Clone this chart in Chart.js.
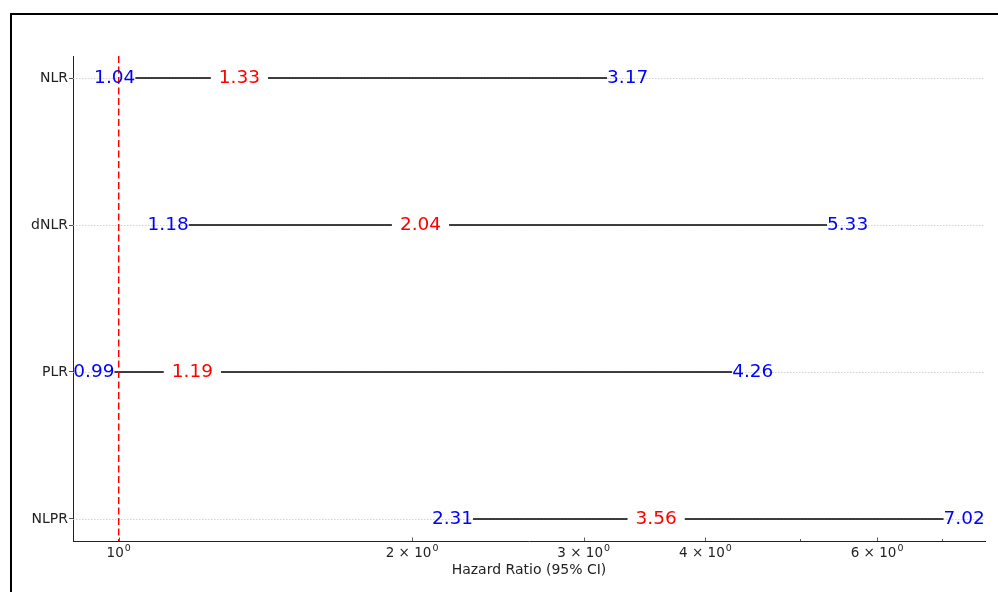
<!DOCTYPE html>
<html>
<head>
<meta charset="utf-8">
<script src="https://cdn.jsdelivr.net/npm/chart.js@4.4.1/dist/chart.umd.min.js"></script>
<style>
  html, body { margin: 0; padding: 0; background: #fff; }
  #wrap { width: 998px; height: 592px; position: relative; }
</style>
</head>
<body>
<div id="wrap"><canvas id="c" width="998" height="592"></canvas></div>
<script>
const categories = ['NLR', 'dNLR', 'PLR', 'NLPR'];
const hazardRatio = [1.33, 2.04, 1.19, 3.56];
const lowerCI = [1.04, 1.18, 0.99, 2.31];
const upperCI = [3.17, 5.33, 4.26, 7.02];
const xTickValues = [0.9, 1, 2, 3, 4, 5, 6, 7];
const xTickMantissa = {1: '', 2: '2 × ', 3: '3 × ', 4: '4 × ', 6: '6 × '};
const referenceValue = 1;

const FONT = 'DejaVu Sans';

const datasets = categories.map((c, i) => ({
  label: c,
  data: [{x: lowerCI[i], y: i}, {x: upperCI[i], y: i}],
  showLine: true,
  borderColor: '#000',
  borderWidth: 1.5,
  pointRadius: 0,
  order: 1
}));
datasets.push({
  label: 'ref',
  data: [{x: referenceValue, y: -0.15}, {x: referenceValue, y: 3.15}],
  showLine: true,
  borderColor: '#ff0000',
  borderWidth: 1.5,
  borderDash: [7, 3.5],
  pointRadius: 0,
  order: 0
});

const framePlugin = {
  id: 'frame',
  beforeDraw(chart) {
    const ctx = chart.ctx;
    ctx.save();
    ctx.fillStyle = '#fff';
    ctx.fillRect(0, 0, chart.width, chart.height);
    ctx.strokeStyle = '#000';
    ctx.lineWidth = 2;
    ctx.strokeRect(11, 14, 1010, 600);
    ctx.restore();
  },
  beforeDatasetsDraw(chart) {
    const ctx = chart.ctx;
    const xs = chart.scales.x, ys = chart.scales.y;
    const a = chart.chartArea;
    ctx.save();
    // horizontal grid lines
    ctx.strokeStyle = '#c8c8c8';
    ctx.lineWidth = 0.8;
    ctx.setLineDash([1.5, 1.5]);
    categories.forEach((c, i) => {
      const y = Math.round(ys.getPixelForValue(i)) + 0.5;
      ctx.beginPath();
      ctx.moveTo(a.left, y);
      ctx.lineTo(a.right, y);
      ctx.stroke();
    });
    ctx.setLineDash([]);
    // x ticks and labels
    ctx.strokeStyle = '#333';
    ctx.lineWidth = 0.8;
    xTickValues.forEach(v => {
      const x = Math.round(xs.getPixelForValue(v)) + 0.5;
      if (x < a.left + 2 || x > a.right) return;
      const major = xTickMantissa[v] !== undefined;
      const len = major ? 3.5 : 2;
      ctx.beginPath();
      ctx.moveTo(x, a.bottom);
      ctx.lineTo(x, a.bottom - len);
      ctx.stroke();
      if (major) {
        const base = xTickMantissa[v] + '10';
        ctx.font = '13.5px "' + FONT + '"';
        const wb = ctx.measureText(base).width;
        ctx.font = '9.5px "' + FONT + '"';
        const ws = ctx.measureText('0').width;
        const x0 = xs.getPixelForValue(v) - (wb + ws + 1) / 2;
        ctx.fillStyle = '#222';
        ctx.textAlign = 'left';
        ctx.textBaseline = 'alphabetic';
        ctx.font = '13.5px "' + FONT + '"';
        ctx.fillText(base, x0, a.bottom + 15.5);
        ctx.font = '9.5px "' + FONT + '"';
        ctx.fillText('0', x0 + wb + 1, a.bottom + 9.5);
      }
    });
    ctx.restore();
  },
  afterDatasetsDraw(chart) {
    const ctx = chart.ctx;
    const xs = chart.scales.x, ys = chart.scales.y;
    ctx.save();
    ctx.font = '18.5px "' + FONT + '"';
    ctx.textBaseline = 'middle';
    categories.forEach((c, i) => {
      const y = ys.getPixelForValue(i);
      const xh = xs.getPixelForValue(hazardRatio[i]);
      const th = hazardRatio[i].toFixed(2);
      const w = ctx.measureText(th).width;
      ctx.fillStyle = '#fff';
      ctx.fillRect(xh - w / 2 - 8, y - 12, w + 16, 24);
      ctx.fillStyle = '#ff0000';
      ctx.textAlign = 'center';
      ctx.fillText(th, xh, y);
      ctx.fillStyle = '#0000ff';
      ctx.textAlign = 'right';
      ctx.fillText(lowerCI[i].toFixed(2), xs.getPixelForValue(lowerCI[i]), y);
      ctx.textAlign = 'left';
      ctx.fillText(upperCI[i].toFixed(2), xs.getPixelForValue(upperCI[i]), y);
    });
    ctx.restore();
  }
};

const minX = Math.pow(10, Math.log10(0.99) - 0.05 * (Math.log10(7.02) - Math.log10(0.99)));
const maxX = Math.pow(10, Math.log10(7.02) + 0.05 * (Math.log10(7.02) - Math.log10(0.99)));

new Chart(document.getElementById('c'), {
  type: 'scatter',
  data: { datasets },
  plugins: [framePlugin],
  options: {
    responsive: false,
    animation: false,
    devicePixelRatio: 1,
    layout: { padding: { left: 0, top: 56, right: 13, bottom: 0 } },
    plugins: { legend: { display: false }, tooltip: { enabled: false } },
    scales: {
      x: {
        type: 'logarithmic',
        min: minX,
        max: maxX,
        afterBuildTicks(scale) {
          scale.ticks = xTickValues.map(v => ({ value: v }));
        },
        afterFit(scale) { scale.height = 51; },
        ticks: {
          autoSkip: false,
          maxRotation: 0,
          padding: 2,
          color: '#222',
          font: { family: FONT, size: 13.5 },
          callback: () => ''
        },
        grid: { display: true, drawOnChartArea: false, drawTicks: false },
        border: { display: true, color: '#222', width: 1 },
        title: {
          display: true,
          text: 'Hazard Ratio (95% CI)',
          color: '#222',
          font: { family: FONT, size: 14 },
          padding: { top: 0, bottom: 13 }
        }
      },
      y: {
        type: 'linear',
        reverse: true,
        min: -0.15,
        max: 3.15,
        afterBuildTicks(scale) {
          scale.ticks = categories.map((c, i) => ({ value: i }));
        },
        afterFit(scale) { scale.width = 73; },
        ticks: {
          autoSkip: false,
          padding: 1,
          color: '#222',
          font: { family: FONT, size: 14 },
          callback: (v) => categories[v] !== undefined ? categories[v] : ''
        },
        grid: { display: true, drawOnChartArea: false, drawTicks: true, tickLength: 4, color: '#222', lineWidth: 0.8 },
        border: { display: true, color: '#222', width: 1 }
      }
    }
  }
});
</script>
</body>
</html>
